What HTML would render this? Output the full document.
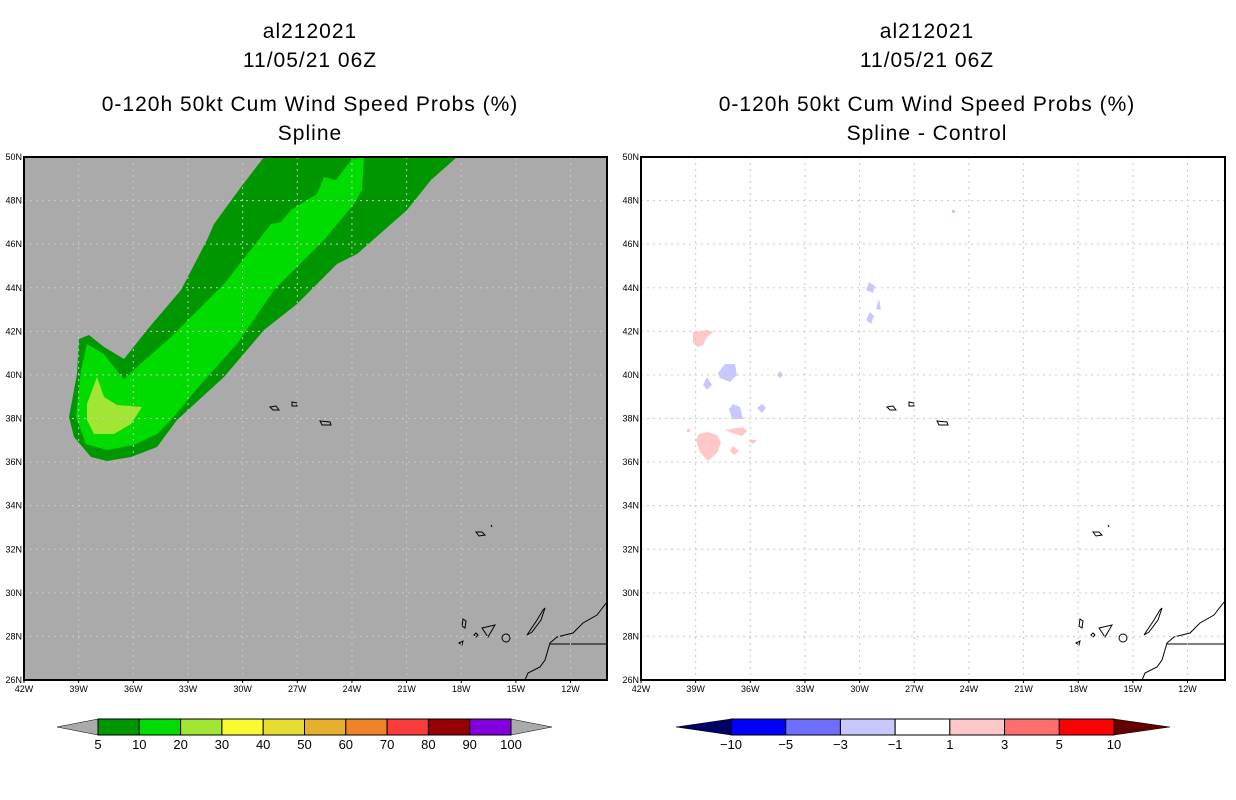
<!DOCTYPE html>
<html><head><meta charset="utf-8"><style>
body{margin:0;background:#fff;}
svg{display:block;font-family:"Liberation Sans",sans-serif;}
.t{font-size:21px;text-anchor:middle;fill:#000;letter-spacing:1px}
.ax{font-size:9px;fill:#000}
.cb{font-size:13px;text-anchor:middle;fill:#000}
</style></head><body>
<svg id="s" width="1236" height="800">
<g>
<text class="t" x="310" y="38">al212021</text>
<text class="t" x="310" y="67">11/05/21 06Z</text>
<text class="t" x="310" y="111">0-120h 50kt Cum Wind Speed Probs (%)</text>
<text class="t" x="310" y="140">Spline</text>
</g>
<g>
<text class="t" x="927" y="38">al212021</text>
<text class="t" x="927" y="67">11/05/21 06Z</text>
<text class="t" x="927" y="111">0-120h 50kt Cum Wind Speed Probs (%)</text>
<text class="t" x="927" y="140">Spline - Control</text>
</g>
<g id="L">
<rect x="24" y="157" width="583" height="523" fill="#aaaaaa"/>
<polygon fill="#009600" points="264,157 457,157 431,180 407,210 357,254 337,264 297,304 264,330 224,377 177,420 157,447 131,457 107,461 91,457 74,437 69,417 77,374 79,339 89,335 104,347 124,359 147,330 181,290 207,240 214,224 241,187"/>
<polygon fill="#00dc00" points="364,157 362,190 354,204 324,240 307,257 274,290 237,344 201,384 171,420 157,434 134,445 107,450 86,444 76,417 81,370 87,344 104,354 114,367 124,379 137,367 171,337 224,284 271,224 281,222 291,210 317,194 324,177 336,180 352,159"/>
<polygon fill="#a0e632" points="97,377 104,397 117,405 142,407 131,424 114,434 94,434 87,420 87,404"/>
</g>
<g id="R">
<rect x="641" y="157" width="584" height="523" fill="#fff"/>
<g fill="#ffc8c8">
<polygon points="693,332 707,330 713,332 707,337 703,345 697,347 693,342"/>
<polygon points="707,432 717,435 721,443 717,453 708,461 700,452 696,440 699,434"/>
<polygon points="725,430 743,427 747,431 742,436 732,433"/>
<polygon points="733,446 739,451 734,455 730,451"/>
<polygon points="748,440 757,440 753,444"/>
<rect x="687" y="429" width="3" height="3"/>
<rect x="1042" y="156" width="3" height="2"/>
</g>
<g fill="#c8c8ff">
<polygon points="725,364 735,364 737,375 730,382 720,378 718,373"/>
<polygon points="707,377 712,385 707,390 703,385"/>
<polygon points="780,371 783,375 780,378 777,375"/>
<polygon points="733,404 740,407 743,419 732,419 729,409"/>
<polygon points="762,404 766,408 762,413 757,408"/>
<polygon points="869,282 875,286 873,293 866,290"/>
<polygon points="870,312 874,316 871,324 866,320"/>
<polygon points="879,299 881,310 876,309"/>
<rect x="952" y="210" width="3" height="3"/>
</g>
</g>
<g id="cbL"></g>
<g id="cbR"></g>
</svg>
<script>
const NS="http://www.w3.org/2000/svg";
const lonTicks=[42,39,36,33,30,27,24,21,18,15,12];
const latTicks=[26,28,30,32,34,36,38,40,42,44,46,48,50];
const leftLevels=["5","10","20","30","40","50","60","70","80","90","100"];
const leftColors=["#009600","#00dc00","#a0e632","#fafa32","#e6dc32","#e6af2d","#f08228","#fa3c3c","#960000","#8200dc"];
const rightLevels=["-10","-5","-3","-1","1","3","5","10"];
const rightColors=["#0000ff","#6e6eff","#c8c8ff","#ffffff","#ffc8c8","#ff6e6e","#ff0000"];
const s=document.getElementById('s');
function mk(tag,a,p){const e=document.createElementNS(NS,tag);for(const k in a)e.setAttribute(k,a[k]);(p||s).appendChild(e);return e;}
const W=583,H=523,Y0=157;
function xs(x0){return lon=>x0+(42-lon)/32*W;}
function ys(lat){return Y0+H-(lat-26)/24*H;}
function coast(g,dx){
  const st={fill:"none",stroke:"#000","stroke-width":1};
  const paths=["M607,602 L597,615 L583,623 L573,633 L557,637 L550,643 L545,660 L540,667 L528,673 L525,680","M550,644 L607,644",
  "M270,407 L276,406 L279,410 L273,410 Z","M292,402 L297,403 L297,406 L292,406 Z","M320,421 L330,422 L331,425 L322,425 Z",
  "M476,532 L482,532 L485,535 L479,536 Z","M491,525 L492,527","M463,619 L466,621 L465,628 L462,626 Z","M482,628 L495,625 L488,637 Z",
  "M476,633 L478,635 L476,637 L474,635 Z","M459,643 L463,641 L462,645 Z","M527,635 L537,620 L543,610 L545,608 L541,620 L532,632 Z"];
  paths.forEach(d=>{const p=mk('path',Object.assign({d:d,transform:`translate(${dx},0)`},st),g);});
  const c=mk('circle',{cx:506+dx,cy:638,r:4,fill:"none",stroke:"#000"},g);
  
}
function axes(g,x0,w){
  const x=xs(x0);
  lonTicks.forEach(l=>{const X=x(l);
    if(l!==42){const ln=mk('line',{x1:X,x2:X,y1:Y0,y2:Y0+H,stroke:"#c8c8c8","stroke-dasharray":"2,4"},g);}
    const t=mk('text',{x:X,y:Y0+H+12,class:"ax","text-anchor":"middle"},g);t.textContent=l+"W";
    
    mk('line',{x1:X,x2:X,y1:Y0+H,y2:Y0+H+3,stroke:"#000"},g);});
  latTicks.forEach(l=>{const Y=ys(l);
    if(l!==26&&l!==50){const ln=mk('line',{x1:x0,x2:x0+w,y1:Y,y2:Y,stroke:"#c8c8c8","stroke-dasharray":"2,4"},g);}
    const t=mk('text',{x:x0-2,y:Y+3,class:"ax","text-anchor":"end"},g);t.textContent=l+"N";
    });
  const r=mk('rect',{x:x0,y:Y0,width:w,height:H,fill:"none",stroke:"#000","stroke-width":2},g);
  
}
const L=document.getElementById('L'),R=document.getElementById('R');
coast(L,0);coast(R,617);
axes(L,24,583);axes(R,641,584);
function colorbar(g,x0,x1,tl,tr,levels,colors,lc,rc){
  const n=colors.length,w=(x1-x0)/n,y=719,h=16;
  const a=mk('polygon',{points:`${tl},${y+h/2} ${x0},${y} ${x0},${y+h}`,fill:lc,stroke:"#000","stroke-width":0.5},g);
  
  const b=mk('polygon',{points:`${tr},${y+h/2} ${x1},${y} ${x1},${y+h}`,fill:rc,stroke:"#000","stroke-width":0.5},g);
  
  colors.forEach((c,i)=>{const r=mk('rect',{x:x0+i*w,y:y,width:w,height:h,fill:c,stroke:"#000","stroke-width":1},g);
    });
  levels.forEach((l,i)=>{const t=mk('text',{x:x0+i*w,y:y+h+14,class:"cb"},g);t.textContent=l.replace('-','\u2212');
    });
}
colorbar(document.getElementById('cbL'),98,511,57,552,leftLevels,leftColors,"#aaaaaa","#aaaaaa");
colorbar(document.getElementById('cbR'),731,1114,676,1170,rightLevels,rightColors,"#000064","#640000");
</script>
</body></html>
